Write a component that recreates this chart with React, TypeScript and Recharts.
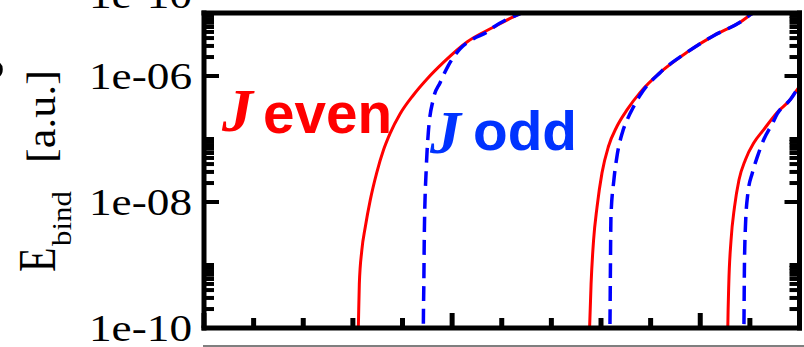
import React from "react";
import { LineChart, Line, XAxis, YAxis } from "recharts";

// binding energy branches, x in field units, E in a.u.
const evenX1 = [3.1, 3.11, 3.13, 3.18, 3.25, 3.35, 3.48, 3.62, 3.75, 3.95, 4.22, 4.49, 4.83, 5.3, 5.84, 6.37, 6.6];
const evenE1 = [5e-11, 1e-10, 5e-10, 1.7e-9, 4e-9, 1.07e-8, 2.9e-8, 6.8e-8, 1.23e-7, 2.5e-7, 5e-7, 8.9e-7, 1.66e-6, 3.47e-6, 6e-6, 9.8e-6, 1.17e-5];

const oddX1 = [4.42, 4.42, 4.43, 4.44, 4.48, 4.52, 4.62, 4.76, 4.92, 5.16, 5.43, 5.71, 5.84, 6.37, 6.6];
const oddE1 = [5e-11, 1e-10, 5e-10, 3.2e-9, 3.6e-8, 1.26e-7, 4.27e-7, 7.9e-7, 1.45e-6, 2.7e-6, 3.9e-6, 5e-6, 6e-6, 9.8e-6, 1.17e-5];

const evenX2 = [7.76, 7.77, 7.8, 7.85, 7.92, 8.02, 8.15, 8.32, 8.53, 8.79, 9.2, 9.74, 10.27, 10.81, 11.05, 11.3];
const evenE2 = [5e-11, 1e-10, 5e-10, 2.45e-9, 8.3e-9, 2.9e-8, 7.6e-8, 1.58e-7, 2.95e-7, 5.5e-7, 1.15e-6, 2.4e-6, 4.37e-6, 7.2e-6, 9.8e-6, 1.2e-5];

const oddX2 = [8.17, 8.18, 8.19, 8.2, 8.26, 8.32, 8.43, 8.53, 8.66, 8.79, 9.2, 9.74, 10.27, 10.81, 11.05, 11.3];
const oddE2 = [5e-11, 1e-10, 9.1e-10, 5.75e-9, 2.24e-8, 5.2e-8, 1.26e-7, 2.04e-7, 3.3e-7, 5e-7, 1.15e-6, 2.4e-6, 4.37e-6, 7.2e-6, 9.8e-6, 1.2e-5];

const evenX3 = [10.55, 10.555, 10.575, 10.62, 10.69, 10.78, 10.91, 11.08, 11.28, 11.55, 11.82, 11.96, 12.2];
const evenE3 = [5e-11, 1e-10, 5e-10, 2.45e-9, 8.3e-9, 2.24e-8, 4.7e-8, 8.7e-8, 1.41e-7, 2.63e-7, 4.27e-7, 6.2e-7, 1e-6];

const oddX3 = [10.875, 10.88, 10.89, 10.91, 10.96, 11.05, 11.15, 11.28, 11.45, 11.55, 11.82, 11.96, 12.2];
const oddE3 = [5e-11, 1e-10, 9.1e-10, 4e-9, 1.38e-8, 2.9e-8, 5.2e-8, 9.8e-8, 1.74e-7, 2.5e-7, 4.27e-7, 6.2e-7, 1e-6];

const xMajorTicks = [0, 5, 10];
const xMinorTicks = [1, 2, 3, 4, 6, 7, 8, 9, 11];

const yMajorTicks = [1e-10, 1e-8, 1e-6];
const yTickLabels = ["1e-10", "1e-08", "1e-06"];
const yMinorTicks = [
  2e-10, 3e-10, 4e-10, 5e-10, 6e-10, 7e-10, 8e-10, 9e-10, 1e-9,
  2e-8, 3e-8, 4e-8, 5e-8, 6e-8, 7e-8, 8e-8, 9e-8, 1e-7,
  2e-6, 3e-6, 4e-6, 5e-6, 6e-6, 7e-6, 8e-6, 9e-6,
];

const toPoints = (xs: number[], es: number[]) => xs.map((x, i) => ({ x, e: es[i] }));

const W = 804;
const H = 347;
const SERIF = "'Liberation Serif', 'Times New Roman', serif";
const SANS = "'Liberation Sans', Arial, sans-serif";
const FRAME = { stroke: "#000", strokeWidth: 5, strokeLinecap: "square" as const };

const MAJOR_LEN = 15;
const MINOR_LEN = 10;

function LeftTick(props: any) {
  const { x, y, payload } = props;
  const idx = yMajorTicks.indexOf(payload.value);
  const len = idx >= 0 ? MAJOR_LEN : MINOR_LEN;
  return (
    <g>
      <line x1={x} y1={y} x2={x + len} y2={y} stroke="#000" strokeWidth={4} />
      {idx >= 0 && (
        <text
          x={x - 12}
          y={y}
          dy="0.36em"
          textAnchor="end"
          fontFamily={SERIF}
          fontSize={37}
          fill="#000"
          textLength={103}
          lengthAdjust="spacingAndGlyphs"
        >
          {yTickLabels[idx]}
        </text>
      )}
    </g>
  );
}

function RightTick(props: any) {
  const { x, y, payload } = props;
  const len = yMajorTicks.includes(payload.value) ? MAJOR_LEN : MINOR_LEN;
  return <line x1={x} y1={y} x2={x - len} y2={y} stroke="#000" strokeWidth={4} />;
}

function BottomTick(props: any) {
  const { x, y, payload } = props;
  const len = xMajorTicks.includes(payload.value) ? MAJOR_LEN : MINOR_LEN;
  return <line x1={x} y1={y} x2={x} y2={y - len} stroke="#000" strokeWidth={5} />;
}

function TopTick(props: any) {
  const { x, y, payload } = props;
  const len = xMajorTicks.includes(payload.value) ? MAJOR_LEN : MINOR_LEN;
  return <line x1={x} y1={y} x2={x} y2={y + len} stroke="#000" strokeWidth={5} />;
}

export default function App() {
  const xTicks = [...xMajorTicks, ...xMinorTicks];
  const yTicks = [...yMajorTicks, ...yMinorTicks];
  const branches = [
    { id: "e1", data: toPoints(evenX1, evenE1), odd: false },
    { id: "e2", data: toPoints(evenX2, evenE2), odd: false },
    { id: "e3", data: toPoints(evenX3, evenE3), odd: false },
    { id: "o1", data: toPoints(oddX1, oddE1), odd: true },
    { id: "o2", data: toPoints(oddX2, oddE2), odd: true },
    { id: "o3", data: toPoints(oddX3, oddE3), odd: true },
  ];

  // axes are 1px thick so they render; margins put the frame at 204..799.5 x 13..328
  return (
    <div style={{ position: "absolute", left: 0, top: 0, width: W, height: H, background: "#fff" }}>
      <LineChart width={W} height={H} margin={{ top: 12, right: 3.5, bottom: 18, left: 203 }}>
        {branches.map((b) => (
          <Line
            key={b.id}
            data={b.data}
            dataKey="e"
            xAxisId="bottom"
            yAxisId="left"
            type="monotone"
            stroke={b.odd ? "#0000ff" : "#ff0000"}
            strokeWidth={b.odd ? 3.5 : 3}
            strokeDasharray={b.odd ? "15 8" : undefined}
            dot={false}
            isAnimationActive={false}
          />
        ))}
        <XAxis
          xAxisId="bottom"
          dataKey="x"
          type="number"
          domain={[0, 12]}
          allowDataOverflow
          ticks={xTicks}
          interval={0}
          height={1}
          tickSize={0}
          tickMargin={0}
          tickLine={false}
          axisLine={FRAME}
          tick={<BottomTick />}
        />
        <XAxis
          xAxisId="top"
          orientation="top"
          type="number"
          domain={[0, 12]}
          allowDataOverflow
          ticks={xTicks}
          interval={0}
          height={1}
          tickSize={0}
          tickMargin={0}
          tickLine={false}
          axisLine={FRAME}
          tick={<TopTick />}
        />
        <YAxis
          yAxisId="left"
          scale="log"
          type="number"
          domain={[1e-10, 1e-5]}
          allowDataOverflow
          ticks={yTicks}
          interval={0}
          width={1}
          tickSize={0}
          tickMargin={0}
          tickLine={false}
          axisLine={FRAME}
          tick={<LeftTick />}
        />
        <YAxis
          yAxisId="right"
          orientation="right"
          scale="log"
          type="number"
          domain={[1e-10, 1e-5]}
          allowDataOverflow
          ticks={yTicks}
          interval={0}
          width={1}
          tickSize={0}
          tickMargin={0}
          tickLine={false}
          axisLine={FRAME}
          tick={<RightTick />}
        />
      </LineChart>

      <svg
        width={W}
        height={H}
        style={{ position: "absolute", left: 0, top: 0, pointerEvents: "none" }}
      >
        {/* panel letter and the tick label of the panel above, both cut by the edge */}
        <text x={-33} y={80} fontFamily={SERIF} fontWeight="bold" fontSize={56} fill="#000">B</text>
        <text
          x={192}
          y={8}
          textAnchor="end"
          fontFamily={SERIF}
          fontSize={37}
          fill="#000"
          textLength={103}
          lengthAdjust="spacingAndGlyphs"
        >
          1e-10
        </text>

        {/* axis title */}
        <g transform="translate(55,272) rotate(-90)">
          <text x={0} y={0} fontFamily={SERIF} fontSize={40} fill="#000" transform="scale(1,1.3)">E</text>
        </g>
        <g transform="translate(71,246) rotate(-90)">
          <text x={0} y={0} fontFamily={SERIF} fontSize={28} fill="#000" textLength={55} lengthAdjust="spacingAndGlyphs">bind</text>
        </g>
        <g transform="translate(55,163) rotate(-90)">
          <text x={0} y={0} fontFamily={SERIF} fontSize={40} fill="#000" textLength={93} lengthAdjust="spacingAndGlyphs">[a.u.]</text>
        </g>

        {/* series labels */}
        <text x={222} y={131} fontFamily={SERIF} fontStyle="italic" fontWeight="bold" fontSize={62} fill="#ff0000">J</text>
        <text x={263} y={133} fontFamily={SANS} fontWeight="bold" fontSize={57} fill="#ff0000" textLength={129} lengthAdjust="spacingAndGlyphs">even</text>
        <text x={430} y={153} fontFamily={SERIF} fontStyle="italic" fontWeight="bold" fontSize={62} fill="#0033ff">J</text>
        <text x={473} y={150} fontFamily={SANS} fontWeight="bold" fontSize={56} fill="#0033ff" textLength={104} lengthAdjust="spacingAndGlyphs">odd</text>

        <line x1={203} y1={346} x2={W} y2={346} stroke="#555" strokeWidth={1.5} />
      </svg>
    </div>
  );
}
